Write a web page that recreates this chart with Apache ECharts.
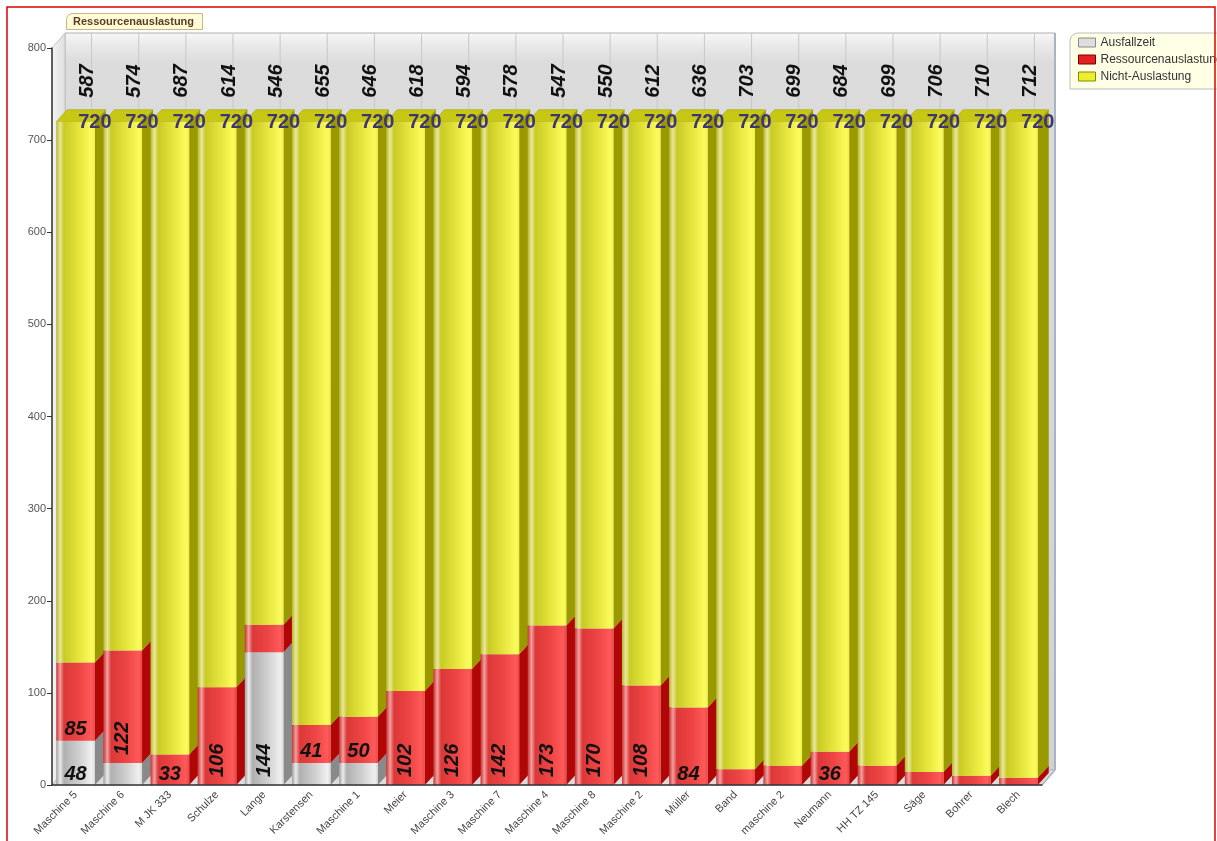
<!DOCTYPE html>
<html><head><meta charset="utf-8">
<script src="https://cdn.jsdelivr.net/npm/echarts@6/dist/echarts.min.js"></script>
<style>html,body{margin:0;padding:0;background:#fff}#c{width:1217px;height:841px}</style>
</head><body><div id="c"></div>
<script>
// ---- data ----
const categories = ['Maschine 5','Maschine 6','M JK 333','Schulze','Lange','Karstensen','Maschine 1','Meier','Maschine 3','Maschine 7','Maschine 4','Maschine 8','Maschine 2','Müller','Band','maschine 2','Neumann','HH TZ 145','Säge','Bohrer','Blech'];
const ausfallzeit = [48,24,0,0,144,24,24,0,0,0,0,0,0,0,0,0,0,0,0,0,0];
const ressourcen = [85,122,33,106,30,41,50,102,126,142,173,170,108,84,17,21,36,21,14,10,8];
const nichtAuslastung = [587,574,687,614,546,655,646,618,594,578,547,550,612,636,703,699,684,699,706,710,712];
const yMin = 0, yMax = 800, yStep = 100;
const seriesNames = ['Ausfallzeit','Ressourcenauslastung','Nicht-Auslastung'];

// ---- style ----
const FONT = '"Liberation Sans", Arial, sans-serif';
const BAR_RATIO = 0.82;
const DX = 11, DY = 12;      // bar depth
const WDX = 13, WDY = 15;    // wall depth
const G = echarts.graphic;
const hGrad = stops => new G.LinearGradient(0,0,1,0, stops.map((c,i)=>({offset:c[0], color:c[1]})));
const FRONT = [
  hGrad([[0,'#a0a0a0'],[0.1,'#ececec'],[0.2,'#b0b0b0'],[0.6,'#d0d0d0'],[0.92,'#f0f0f0'],[1,'#d8d8d8']]),
  hGrad([[0,'#c83232'],[0.1,'#f2a0a0'],[0.2,'#dc3838'],[0.6,'#ee4444'],[0.92,'#ff5a5a'],[1,'#e84444']]),
  hGrad([[0,'#b8b828'],[0.1,'#e8e8a0'],[0.2,'#caca26'],[0.6,'#e6e63e'],[0.92,'#fbfb5c'],[1,'#f0f04a']])
];
const SIDE = ['#8a8a8a','#b00606','#9a9a00'];
const TOP = '#c8c814';

const totals = categories.map((_,i)=>ausfallzeit[i]+ressourcen[i]+nichtAuslastung[i]);

function segLabel(dist){
  return { show:true, position:'insideBottom', distance:dist, color:'#111', fontSize:20, fontWeight:'bold', fontStyle:'italic', fontFamily:FONT,
    formatter: p => (p.value >= 31 ? String(p.value) : '') };
}
function segData(arr){
  return arr.map(v => v >= 100
    ? {value:v, label:{rotate:90, align:'left', verticalAlign:'middle', distance:8}}
    : {value:v, label:{rotate:0, align:'center', verticalAlign:'bottom', distance:1}});
}

const chart = echarts.init(document.getElementById('c'), null, {renderer:'canvas'});

const option = {
  animation:false,
  backgroundColor:'#ffffff',
  title:{ text:'Ressourcenauslastung', left:66, top:13, padding:[3,9,3,7], backgroundColor:'#fffbd9', borderColor:'#c9b57e', borderWidth:1, borderRadius:[6,0,0,0],
    textStyle:{fontSize:11, fontWeight:'bold', color:'#5c3d1e', fontFamily:FONT} },
  legend:{ orient:'vertical', left:1070, top:33, itemWidth:17, itemHeight:9, itemGap:4, padding:[3,8,6,8], icon:'rect', selectedMode:false,
    backgroundColor:'#ffffe6', borderColor:'#bdbdbd', borderWidth:1, borderRadius:[8,0,0,0],
    textStyle:{fontSize:12, color:'#333', fontFamily:FONT, lineHeight:13},
    data:[
      {name:seriesNames[0], itemStyle:{color:'#dedede', borderColor:'#8a8a8a', borderWidth:1}},
      {name:seriesNames[1], itemStyle:{color:'#e42020', borderColor:'#7a0000', borderWidth:1}},
      {name:seriesNames[2], itemStyle:{color:'#eeee30', borderColor:'#8a8a00', borderWidth:1}}
    ] },
  grid:{ left:52, right:175, top:48, bottom:56, containLabel:false },
  xAxis:{ type:'category', data:categories, z:20,
    axisLine:{lineStyle:{color:'#333', width:1.5}},
    axisTick:{alignWithLabel:true, length:5, lineStyle:{color:'#333'}},
    axisLabel:{rotate:45, interval:0, fontSize:11, color:'#444', margin:8, fontFamily:FONT} },
  yAxis:{ type:'value', min:yMin, max:yMax, interval:yStep, z:20,
    axisLine:{show:true, lineStyle:{color:'#333', width:1.5}},
    axisTick:{show:true, length:5, lineStyle:{color:'#333'}},
    axisLabel:{fontSize:11, color:'#555', margin:6, fontFamily:FONT},
    splitLine:{show:false} },
  graphic:[{ type:'rect', silent:true, z:100, shape:{x:7, y:7, width:1208, height:870}, style:{fill:null, stroke:'#e00000', lineWidth:1.5} }],
  series:[
    { type:'custom', name:'wall', silent:true, z:0, data:[[0]],
      renderItem:(params, api) => {
        const cs = params.coordSys;
        const x0 = cs.x, y0 = cs.y, x1 = cs.x + cs.width, y1 = cs.y + cs.height;
        const ch = [];
        ch.push({type:'rect', shape:{x:x0+WDX, y:y0-WDY, width:cs.width, height:cs.height},
          style:{fill:new G.LinearGradient(0,0,0,1,[{offset:0,color:'#f8f8f8'},{offset:0.015,color:'#ebebeb'},{offset:0.04,color:'#dcdcdc'},{offset:1,color:'#d2d2d2'}]), stroke:'#b0b0b0', lineWidth:1}});
        ch.push({type:'polygon', shape:{points:[[x0,y0],[x0+WDX,y0-WDY],[x0+WDX,y1-WDY],[x0,y1]]},
          style:{fill:new G.LinearGradient(0,0,1,0,[{offset:0,color:'#f4f4f4'},{offset:1,color:'#dedede'}]), stroke:'#c4c4c4', lineWidth:1}});
        ch.push({type:'polygon', shape:{points:[[x0,y1],[x0+WDX,y1-WDY],[x1+WDX,y1-WDY],[x1,y1]]},
          style:{fill:'#dcdcdc', stroke:'#b8c0cc', lineWidth:1}});
        categories.forEach((_,i)=>{
          const x = api.coord([i,0])[0] + WDX + 3;
          ch.push({type:'line', shape:{x1:x, y1:y0-WDY, x2:x, y2:y1-WDY}, style:{stroke:'#c8c8c8', lineWidth:1}});
        });
        ch.push({type:'line', shape:{x1:x1+WDX, y1:y0-WDY, x2:x1+WDX, y2:y1-WDY}, style:{stroke:'#a9b3c6', lineWidth:2}});
        ch.push({type:'line', shape:{x1:x1, y1:y1, x2:x1+WDX, y2:y1-WDY}, style:{stroke:'#a9b3c6', lineWidth:1.5}});
        return {type:'group', children:ch};
      } },
    { type:'custom', name:'depth', silent:true, z:1,
      data: categories.map((_,i)=>[i, ausfallzeit[i], ressourcen[i], nichtAuslastung[i]]),
      renderItem:(params, api) => {
        const i = api.value(0);
        const vals = [api.value(1), api.value(2), api.value(3)];
        const cx = api.coord([i,0])[0];
        const bw = api.size([1,0])[0] * BAR_RATIO;
        const xl = cx - bw/2, xr = cx + bw/2;
        const ch = [];
        let base = 0;
        for (let k=0;k<3;k++){
          const v = vals[k]; if (!(v>0)) continue;
          const yb = api.coord([i,base])[1], yt = api.coord([i,base+v])[1];
          ch.push({type:'polygon', shape:{points:[[xr,yb],[xr,yt],[xr+DX,yt-DY],[xr+DX,yb-DY]]}, style:{fill:SIDE[k]}});
          base += v;
        }
        const yt = api.coord([i,base])[1];
        ch.push({type:'polygon', shape:{points:[[xl,yt],[xl+DX,yt-DY],[xr+DX,yt-DY],[xr,yt]]}, style:{fill:TOP, stroke:'#a6a600', lineWidth:0.6}});
        return {type:'group', children:ch};
      } },
    { type:'bar', name:seriesNames[0], stack:'total', barWidth:(BAR_RATIO*100)+'%', z:2,
      itemStyle:{color:FRONT[0]}, label:segLabel(1), data:segData(ausfallzeit) },
    { type:'bar', name:seriesNames[1], stack:'total', barWidth:(BAR_RATIO*100)+'%', z:2,
      itemStyle:{color:FRONT[1]}, label:segLabel(1), data:segData(ressourcen) },
    { type:'bar', name:seriesNames[2], stack:'total', barWidth:(BAR_RATIO*100)+'%', z:2,
      itemStyle:{color:FRONT[2]},
      label:{ show:true, position:'top', rotate:90, align:'left', verticalAlign:'middle', distance:24, offset:[0,12],
        color:'#111', fontSize:20, fontWeight:'bold', fontStyle:'italic', fontFamily:FONT },
      data:nichtAuslastung },
    { type:'custom', name:'totals', silent:true, z:10,
      data: categories.map((_,i)=>[i, totals[i]]),
      renderItem:(params, api) => {
        const i = api.value(0);
        const c = api.coord([i, api.value(1)]);
        const bw = api.size([1,0])[0] * BAR_RATIO;
        return {type:'text', style:{text:String(api.value(1)), x:c[0]+bw/2, y:c[1]+1, align:'center', verticalAlign:'middle',
          fontSize:20, fontWeight:'bold', fontFamily:FONT, fill:'#3d3670'}};
      } }
  ]
};
chart.setOption(option);
</script></body></html>
